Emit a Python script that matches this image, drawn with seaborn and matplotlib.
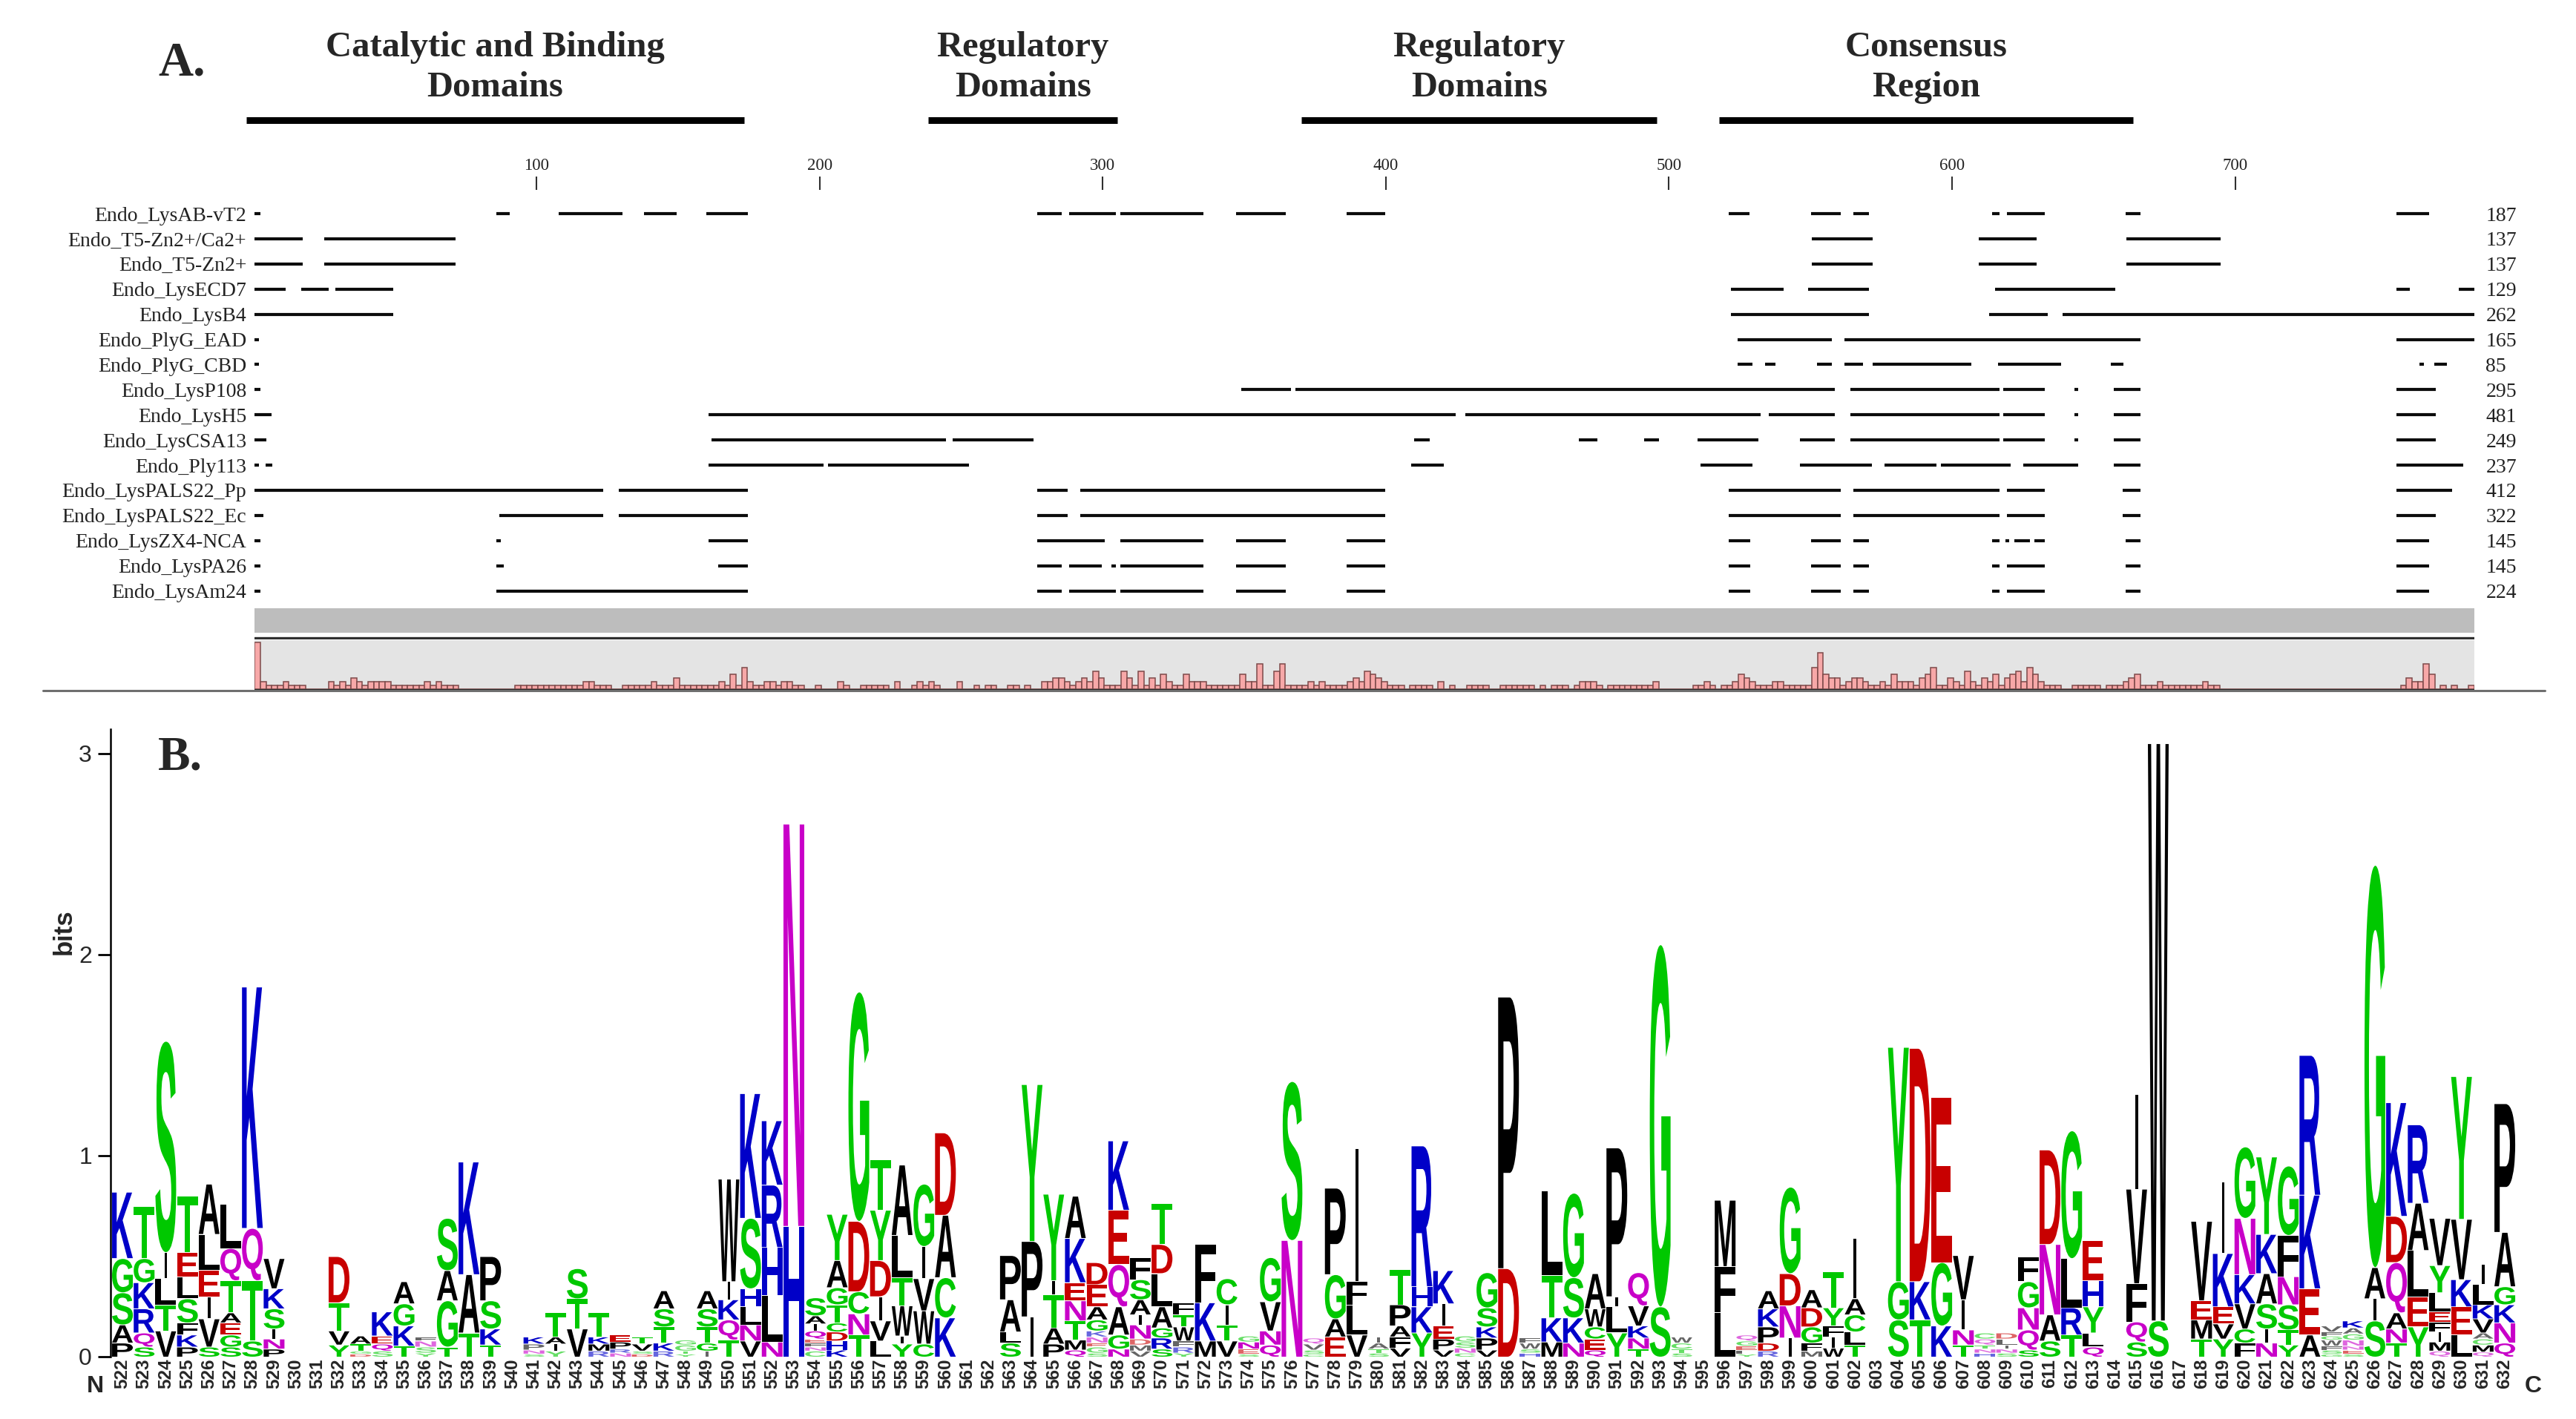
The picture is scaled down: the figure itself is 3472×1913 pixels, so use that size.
import numpy as np
import pandas as pd
import matplotlib
matplotlib.use("Agg")
import matplotlib.pyplot as plt
from matplotlib.font_manager import FontProperties
from matplotlib.lines import Line2D
from matplotlib.patches import PathPatch
from matplotlib.textpath import TextPath
from matplotlib.transforms import Affine2D
import seaborn as sns

sns.set_style("white")
plt.rcParams['font.family'] = ['Liberation Serif', 'DejaVu Serif']

W, H = 3473, 1913

# panel A
domain_titles = ["Catalytic and Binding\nDomains", "Regulatory\nDomains", "Regulatory\nDomains", "Consensus\nRegion"]
domain_starts = [-2.5, 238.4, 370.2, 517.8]
domain_ends = [173.4, 305.2, 495.8, 664]
scale_ticks = [100, 200, 300, 400, 500, 600, 700]

row_names = ["Endo_LysAB-vT2", "Endo_T5-Zn2+/Ca2+", "Endo_T5-Zn2+", "Endo_LysECD7", "Endo_LysB4", "Endo_PlyG_EAD",
             "Endo_PlyG_CBD", "Endo_LysP108", "Endo_LysH5", "Endo_LysCSA13", "Endo_Ply113", "Endo_LysPALS22_Pp",
             "Endo_LysPALS22_Ec", "Endo_LysZX4-NCA", "Endo_LysPA26", "Endo_LysAm24"]
row_counts = [187, 137, 137, 129, 262, 165, 85, 295, 481, 249, 237, 412, 322, 145, 145, 224]

row_fragments = [
    [(1, 2.5), (86.3, 90.6), (108.4, 130.5), (138.5, 149.5), (160.5, 174.6), (277.5, 285.6), (288.6, 304.6), (306.6, 335.5),
     (347.5, 364.6), (386.7, 399.7), (521.7, 528.5), (550.6, 560.6), (565.7, 570.6), (614.7, 616.7), (619.8, 632.7),
     (661.8, 666.7), (757.6, 768.6)],
    [(1, 17.5), (25.5, 71.5), (551, 572), (610, 630), (662, 695)],
    [(1, 17.5), (25.5, 71.5), (551, 572), (610, 630), (662, 695)],
    [(1, 11.5), (17.5, 26.5), (29.5, 49.5), (522.5, 540.5), (549.6, 570.6), (615.7, 657.6), (757.6, 761.6), (779.6, 784.5)],
    [(1, 49.5), (522.5, 570.6), (613.7, 633.7), (639.6, 784.5)],
    [(1, 2), (524.7, 557.5), (562.5, 666.7), (757.6, 784.5)],
    [(1, 2), (524.7, 529.6), (534.5, 537.6), (552.7, 557.6), (562.5, 568.6), (572.5, 606.7), (616.7, 638.6), (656.7, 660.6),
     (765.7, 766.7), (770.8, 774.7)],
    [(1, 2.5), (349.5, 366.6), (368.6, 558.6), (564.5, 616.7), (618.6, 632.7), (643.7, 644.5), (657.6, 666.7), (757.6, 770.8)],
    [(1, 6.5), (161.4, 424.6), (428.6, 532.5), (535.7, 558.6), (564.5, 616.7), (618.6, 632.7), (643.7, 644.5), (657.6, 666.7),
     (757.6, 770.8)],
    [(1, 4.7), (162.4, 244.6), (247.6, 275.5), (410.5, 415.5), (468.7, 474.7), (491.8, 496.6), (510.6, 531.5), (546.7, 558.6),
     (564.5, 616.7), (618.6, 632.7), (643.7, 644.5), (657.6, 666.7), (757.6, 770.8)],
    [(1, 2), (4.7, 6.7), (161.4, 201.5), (203.5, 252.7), (409.5, 420.6), (511.6, 529.5), (546.7, 571.6), (576.7, 594.5),
     (596.7, 620.6), (625.7, 644.5), (657.6, 666.7), (757.6, 780.6)],
    [(1, 123.5), (129.5, 174.6), (277.5, 287.6), (292.6, 399.7), (521.6, 560.6), (565.7, 616.7), (619.8, 632.7), (660.8, 666.7),
     (757.6, 776.7)],
    [(1, 3.5), (87.4, 123.5), (129.5, 174.6), (277.5, 287.6), (292.6, 399.7), (521.6, 560.6), (565.7, 616.7), (619.8, 632.7),
     (660.8, 666.7), (757.6, 770.8)],
    [(1, 2.5), (86.3, 87.5), (161.4, 174.6), (277.5, 300.6), (306.6, 335.5), (347.5, 364.6), (386.7, 399.7), (521.6, 528.6),
     (550.6, 560.6), (565.7, 570.6), (614.7, 616.7), (619.4, 620.2), (622.5, 627.6), (629.6, 632.7), (661.8, 666.7), (757.6, 768.6)],
    [(1, 2.5), (86.3, 88.5), (164.6, 174.6), (277.5, 285.6), (288.6, 299.6), (303.6, 304.6), (306.6, 335.5), (347.5, 364.6),
     (386.7, 399.7), (521.6, 528.6), (550.6, 560.6), (565.7, 570.6), (614.7, 616.7), (619.8, 632.7), (661.8, 666.7), (757.6, 768.6)],
    [(1, 2.5), (86.3, 174.6), (277.5, 285.6), (288.6, 304.6), (306.6, 335.5), (347.5, 364.6), (386.7, 399.7), (521.6, 528.6),
     (550.6, 560.6), (565.7, 570.6), (614.7, 616.7), (619.8, 632.7), (661.8, 666.7), (757.6, 768.6)],
]

# conservation histogram, one hex digit per two-residue bin
conservation_a = "D2111" "2111" "0000" "2121321" "2222" "111111" "212" "111" "0000000000" "111111111111" "22" "111" "00"
conservation_b = "11111" "2" "111" "3" "1111111" "2" "1" "4" "1" "6" "2" "11" "22" "1" "22" "11" "00" "1" "000" "2" "1" "00" "11111" "0" "2" "00" "1" "2" "1" "2" "1" "000" "2" "00" "1" "0" "1"
conservation_c = "1" "00" "11" "0" "1" "00" "22" "33" "2" "1" "2" "3" "2" "5" "3" "111" "5" "3" "1" "5" "1" "3" "1" "4" "2" "11" "4" "222" "111111" "4" "22" "7" "11" "5" "7" "1111" "2" "1" "2" "1111" "2" "3" "2"
conservation_d = "5" "4" "3" "2" "111" "0" "1111" "0" "2" "0" "1" "00" "1111" "00" "111111" "0" "1" "0" "111" "0" "1" "222" "1" "0" "11111111" "2" "000000" "11" "2" "1" "0" "11" "2"
conservation_e = "4" "3" "2" "111" "22" "11111" "6" "A" "4" "33" "1" "2" "33" "2" "11" "2" "1" "4" "2" "2" "2" "1" "3" "4" "6" "11" "3" "2" "1" "5" "2" "1" "3" "2" "4" "1" "3" "4" "5" "2" "6" "4" "2" "111" "00" "11111" "0"
conservation_f = "111" "2" "3" "4" "111" "2" "1111111" "2" "11" "00000000000000000000000000000000" "1" "3" "22" "7" "4" "0" "1" "0" "1" "00" "1"

# panel B, stacks are listed bottom to top
logo_first = 522
logo_letters = [
    "PASGK", "SQRKGT", "VTLIS", "PKFSLET", "SVIELA", "SGEATQL", "STQK", "PNISKV", "", "", "YVTD", "DGTA", "SQEK", "TKGA",
    "YSNF", "TGAS", "TAK", "TKSP", "", "SNPK", "YIAT", "VTS", "RMKT", "NRPE", "DSVT", "RKTSA", "YTGG", "IGTSA", "TQKIW",
    "VNLHSK", "NLHRK", "HN", "CNFEQIAS", "KHDCTGAY", "TNCDG", "LVIDYT", "YIWTLA", "CWVIG", "KCAD", "", "", "SLAP", "IPY",
    "PATIY", "QMTNEKA", "SGENKGAED", "NGAQEK", "VMDNIASF", "SRGALDT", "YRFWTF", "MKF", "VTIC", "SENG", "QNVG", "NS",
    "CSVQ", "EAGP", "VLFI", "STAI", "VFAPT", "YKHR", "VPEIK", "CNSG", "VPKSG", "DP", "HSWF", "MKTL", "NKSG", "QECWA",
    "YLIP", "TNKVQ", "SG", "STCW", "", "LFM", "YFEGQ", "RDPKA", "INDG", "MFGDA", "WIFYT", "TLCAI", "", "SGY", "TKD",
    "KGE", "TNIV", "HNTQC", "SNILD", "SQNGF", "SAND", "TRLG", "QLYHE", "", "SQFVI", "SW", "", "TMEV", "YVEKI", "FCVKNG",
    "NISAKY", "YTSNFG", "AEKR", "GSFWGFV", "SENNGAK", "SIAG", "TNAQDK", "YELAR", "QMIFELYV", "LEKVY", "QMCAVKLI", "QNKGAP",
]
logo_heights = [
    [.07, .09, .16, .17, .33], [.05, .07, .12, .13, .12, .26], [.13, .13, .13, .13, 1.05], [.05, .06, .06, .12, .11, .12, .28],
    [.05, .14, .11, .13, .18, .25], [.05, .06, .06, .05, .16, .16, .22], [.08, .30, .26, 1.2], [.04, .05, .05, .1, .1, .15],
    [], [], [.06, .07, .14, .23], [.015, .015, .035, .04], [.03, .035, .04, .12], [.055, .1, .11, .11],
    [.02, .03, .03, .02], [.05, .23, .15, .26], [.12, .29, .56], [.06, .08, .14, .22], [],
    [.015, .02, .03, .035], [.03, .035, .035, .12], [.14, .15, .15], [.03, .035, .035, .12], [.02, .02, .035, .035],
    [.015, .015, .035, .035], [.03, .04, .08, .09, .09], [.015, .015, .03, .025], [.03, .04, .08, .09, .09], [.085, .1, .1, .09, .51],
    [.08, .08, .09, .09, .35, .62], [.075, .23, .24, .31, .32], [.65, 2.0], [.03, .02, .02, .02, .04, .035, .04, .09],
    [.035, .045, .045, .045, .09, .085, .135, .23], [.11, .105, .11, .35, 1.14], [.08, .1, .12, .18, .25, .25],
    [.065, .04, .15, .14, .21, .35], [.065, .165, .16, .16, .31], [.195, .2, .31, .41], [], [],
    [.07, .055, .16, .22], [.2, .375, .78],
    [.065, .08, .165, .07, .43], [.035, .05, .095, .1, .09, .22, .21], [.02, .03, .02, .03, .03, .055, .065, .11, .11],
    [.04, .07, .14, .21, .27, .345], [.03, .03, .03, .07, .05, .075, .1, .11], [.04, .055, .05, .105, .165, .145, .205],
    [.02, .03, .03, .07, .06, .06], [.08, .19, .29], [.08, .08, .1, .13], [.015, .025, .035, .03], [.06, .07, .145, .22],
    [.58, .79], [.015, .02, .03, .03], [.1, .09, .22, .43], [.11, .15, .115, .66], [.02, .02, .03, .03],
    [.045, .055, .055, .105, .175], [.12, .13, .1, .7], [.035, .055, .065, .11, .165], [.02, .025, .03, .03],
    [.035, .06, .055, .095, .175], [.44, 1.35], [.02, .02, .03, .025], [.075, .12, .21, .42], [.07, .125, .2, .42],
    [.035, .055, .06, .09, .175], [.12, .13, .05, .74], [.04, .055, .06, .1, .165], [.25, 1.8], [.02, .02, .03, .03], [],
    [.22, .23, .33], [.015, .02, .02, .025, .03], [.03, .04, .08, .09, .09], [.095, .16, .16, .43], [.03, .04, .08, .095, .09],
    [.045, .055, .055, .09, .18], [.06, .065, .085, .08, .3], [], [.185, .19, 1.165], [.185, .19, 1.16], [.155, .315, .82],
    [.06, .075, .15, .22], [.02, .02, .02, .03, .03], [.02, .02, .02, .03, .03], [.035, .1, .11, .13, .125],
    [.08, .13, .35, .47], [.11, .135, .245, .635], [.05, .07, .13, .13, .2], [], [.075, .1, .19, .47, .47], [.18, 2.87], [],
    [.09, .095, .095, .395], [.09, .075, .085, .265, .355], [.07, .07, .125, .145, .28, .355], [.07, .07, .125, .15, .195, .385],
    [.06, .075, .125, .14, .205, .345], [.11, .23, .465, .695], [.015, .02, .02, .03, .02, .02, .03],
    [.015, .02, .02, .03, .03, .03, .035], [.18, .11, .155, 2.0], [.07, .07, .08, .25, .23, .565], [.15, .15, .23, .235, .39],
    [.03, .045, .05, .05, .05, .095, .135, .235], [.11, .14, .135, .3, .71], [.025, .035, .03, .03, .07, .07, .1, .1],
    [.07, .1, .09, .09, .27, .64],
]

letter_colors = {}
for letter in "GSTYC":
    letter_colors[letter] = "#00c800"
for letter in "NQ":
    letter_colors[letter] = "#c800c8"
for letter in "KRH":
    letter_colors[letter] = "#0000c8"
for letter in "DE":
    letter_colors[letter] = "#c80000"
for letter in "AVLIPWFM":
    letter_colors[letter] = "#000000"


def px_axes(fig, left, top, right, bottom):
    return fig.add_axes([left / W, 1 - bottom / H, (right - left) / W, (bottom - top) / H])


def draw_map(fig):
    ax = px_axes(fig, 343.4, 256, 3335, 862)
    for i, fragments in enumerate(row_fragments):
        ax.hlines([i] * len(fragments), [f[0] - 0.5 for f in fragments], [f[1] for f in fragments],
                  color="#0c0c0c", linewidth=3, capstyle="butt")
    ax.set_xlim(0.5, 784.5)
    ax.set_ylim(16.93, -0.944)
    ax.axhspan(15.69, 16.67, color="#bdbdbd", linewidth=0)
    ax.axhline(16.87, color="#303030", linewidth=2.4)
    ax.xaxis.tick_top()
    ax.set_xticks(scale_ticks)
    ax.tick_params(axis="x", length=13, width=1.5, color="#303030", pad=3, labelsize=16.5, labelcolor="#222222")
    ax.set_yticks(range(len(row_names)))
    ax.set_yticklabels(row_names)
    ax.tick_params(axis="y", length=0, pad=8, labelsize=20, labelcolor="#222222")
    right = ax.twinx()
    right.set_ylim(ax.get_ylim())
    right.set_yticks(range(len(row_counts)))
    right.set_yticklabels(row_counts)
    right.tick_params(axis="y", length=0, pad=11, labelsize=20, labelcolor="#222222")
    sns.despine(ax=ax, left=True, bottom=True, right=True, top=True)
    sns.despine(ax=right, left=True, bottom=True, right=True, top=True)


def draw_conservation(fig):
    levels = [int(c, 16) for c in conservation_a + conservation_b + conservation_c + conservation_d + conservation_e + conservation_f]
    df = pd.DataFrame({"residue": 1.5 + 2 * np.arange(len(levels)), "level": levels})
    ax = px_axes(fig, 343.4, 863, 3335, 931)
    ax.set_facecolor("#e4e4e4")
    sns.barplot(data=df, x="residue", y="level", native_scale=True, width=1, color="#f7a8a8", saturation=1,
                edgecolor="#7d4a4a", linewidth=1.1, ax=ax)
    ax.axhline(-0.15, color="#2a2a2a", linewidth=2.2)
    ax.set_xlim(0.5, 784.5)
    ax.set_ylim(-0.45, 13.6)
    ax.set_xlabel("")
    ax.set_ylabel("")
    ax.set_xticks([])
    ax.set_yticks([])
    sns.despine(ax=ax, left=True, bottom=True, right=True, top=True)


def draw_domains(fig):
    ax = px_axes(fig, 343.4, 0, 3335, 256)
    ax.axis("off")
    ax.set_xlim(0.5, 784.5)
    ax.set_ylim(256, 0)
    ax.hlines([162] * len(domain_starts), domain_starts, domain_ends, color="black", linewidth=6.5, capstyle="butt", clip_on=False)
    for title, start, end in zip(domain_titles, domain_starts, domain_ends):
        ax.text((start + end) / 2, 91, title, ha="center", va="center", fontsize=35, fontweight="bold", linespacing=1.28, clip_on=False)


def draw_logo(fig):
    ax = px_axes(fig, 149, 983, 3400, 1829)
    prop = FontProperties(family="Liberation Sans", weight="bold")
    positions = [logo_first + i for i in range(len(logo_letters))]
    for pos, letters, heights in zip(positions, logo_letters, logo_heights):
        bottom = 0
        for letter, height in zip(letters, heights):
            path = TextPath((0, 0), letter, size=1, prop=prop)
            box = path.get_extents()
            width = 0.13 if letter == "I" else 0.96
            tr = Affine2D().translate(-box.x0, -box.y0).scale(width / box.width, (height - 0.004) / box.height).translate(pos - width / 2, bottom)
            ax.add_patch(PathPatch(path, transform=tr + ax.transData, facecolor=letter_colors[letter], linewidth=0,
                                   alpha=0.6 if height < 0.032 else 1))
            bottom += height
    ax.set_xlim(521.45, 632.82)
    ax.set_ylim(0, 3.12)
    ax.set_xticks(positions)
    ax.set_xticklabels(positions, rotation=90, fontfamily="Liberation Sans", fontweight="bold", fontsize=17.5)
    ax.tick_params(axis="x", length=0, pad=2)
    ax.set_yticks([0, 1, 2, 3])
    ax.set_yticklabels([0, 1, 2, 3], fontfamily="Liberation Sans", fontsize=23)
    ax.tick_params(axis="y", left=True, length=12, width=2, color="black", pad=6)
    ax.set_ylabel("bits", fontfamily="Liberation Sans", fontweight="bold", fontsize=25)
    ax.yaxis.set_label_coords(-46 / (3400 - 149), (1829 - 1256) / 846)
    sns.despine(ax=ax, bottom=True)
    ax.spines["left"].set_linewidth(1.8)
    ax.spines["left"].set_color("black")


fig = plt.figure(figsize=(W / 100, H / 100), dpi=100)
draw_domains(fig)
draw_map(fig)
draw_conservation(fig)
draw_logo(fig)
fig.add_artist(Line2D([58 / W, 3430 / W], [1 - 931 / H, 1 - 931 / H], color="#6f6f6f", linewidth=2.2))
fig.text(213 / W, 1 - 86 / H, "A.", fontsize=47, fontweight="bold", va="center")
fig.text(213 / W, 1 - 1022 / H, "B.", fontsize=47, fontweight="bold", va="center")
fig.text(128 / W, 1 - 1869 / H, "N", fontsize=23, fontfamily="Liberation Sans", fontweight="bold", ha="center", va="center")
fig.text(3414 / W, 1 - 1869 / H, "C", fontsize=23, fontfamily="Liberation Sans", fontweight="bold", ha="center", va="center")
fig.savefig("out.png", dpi=100)
